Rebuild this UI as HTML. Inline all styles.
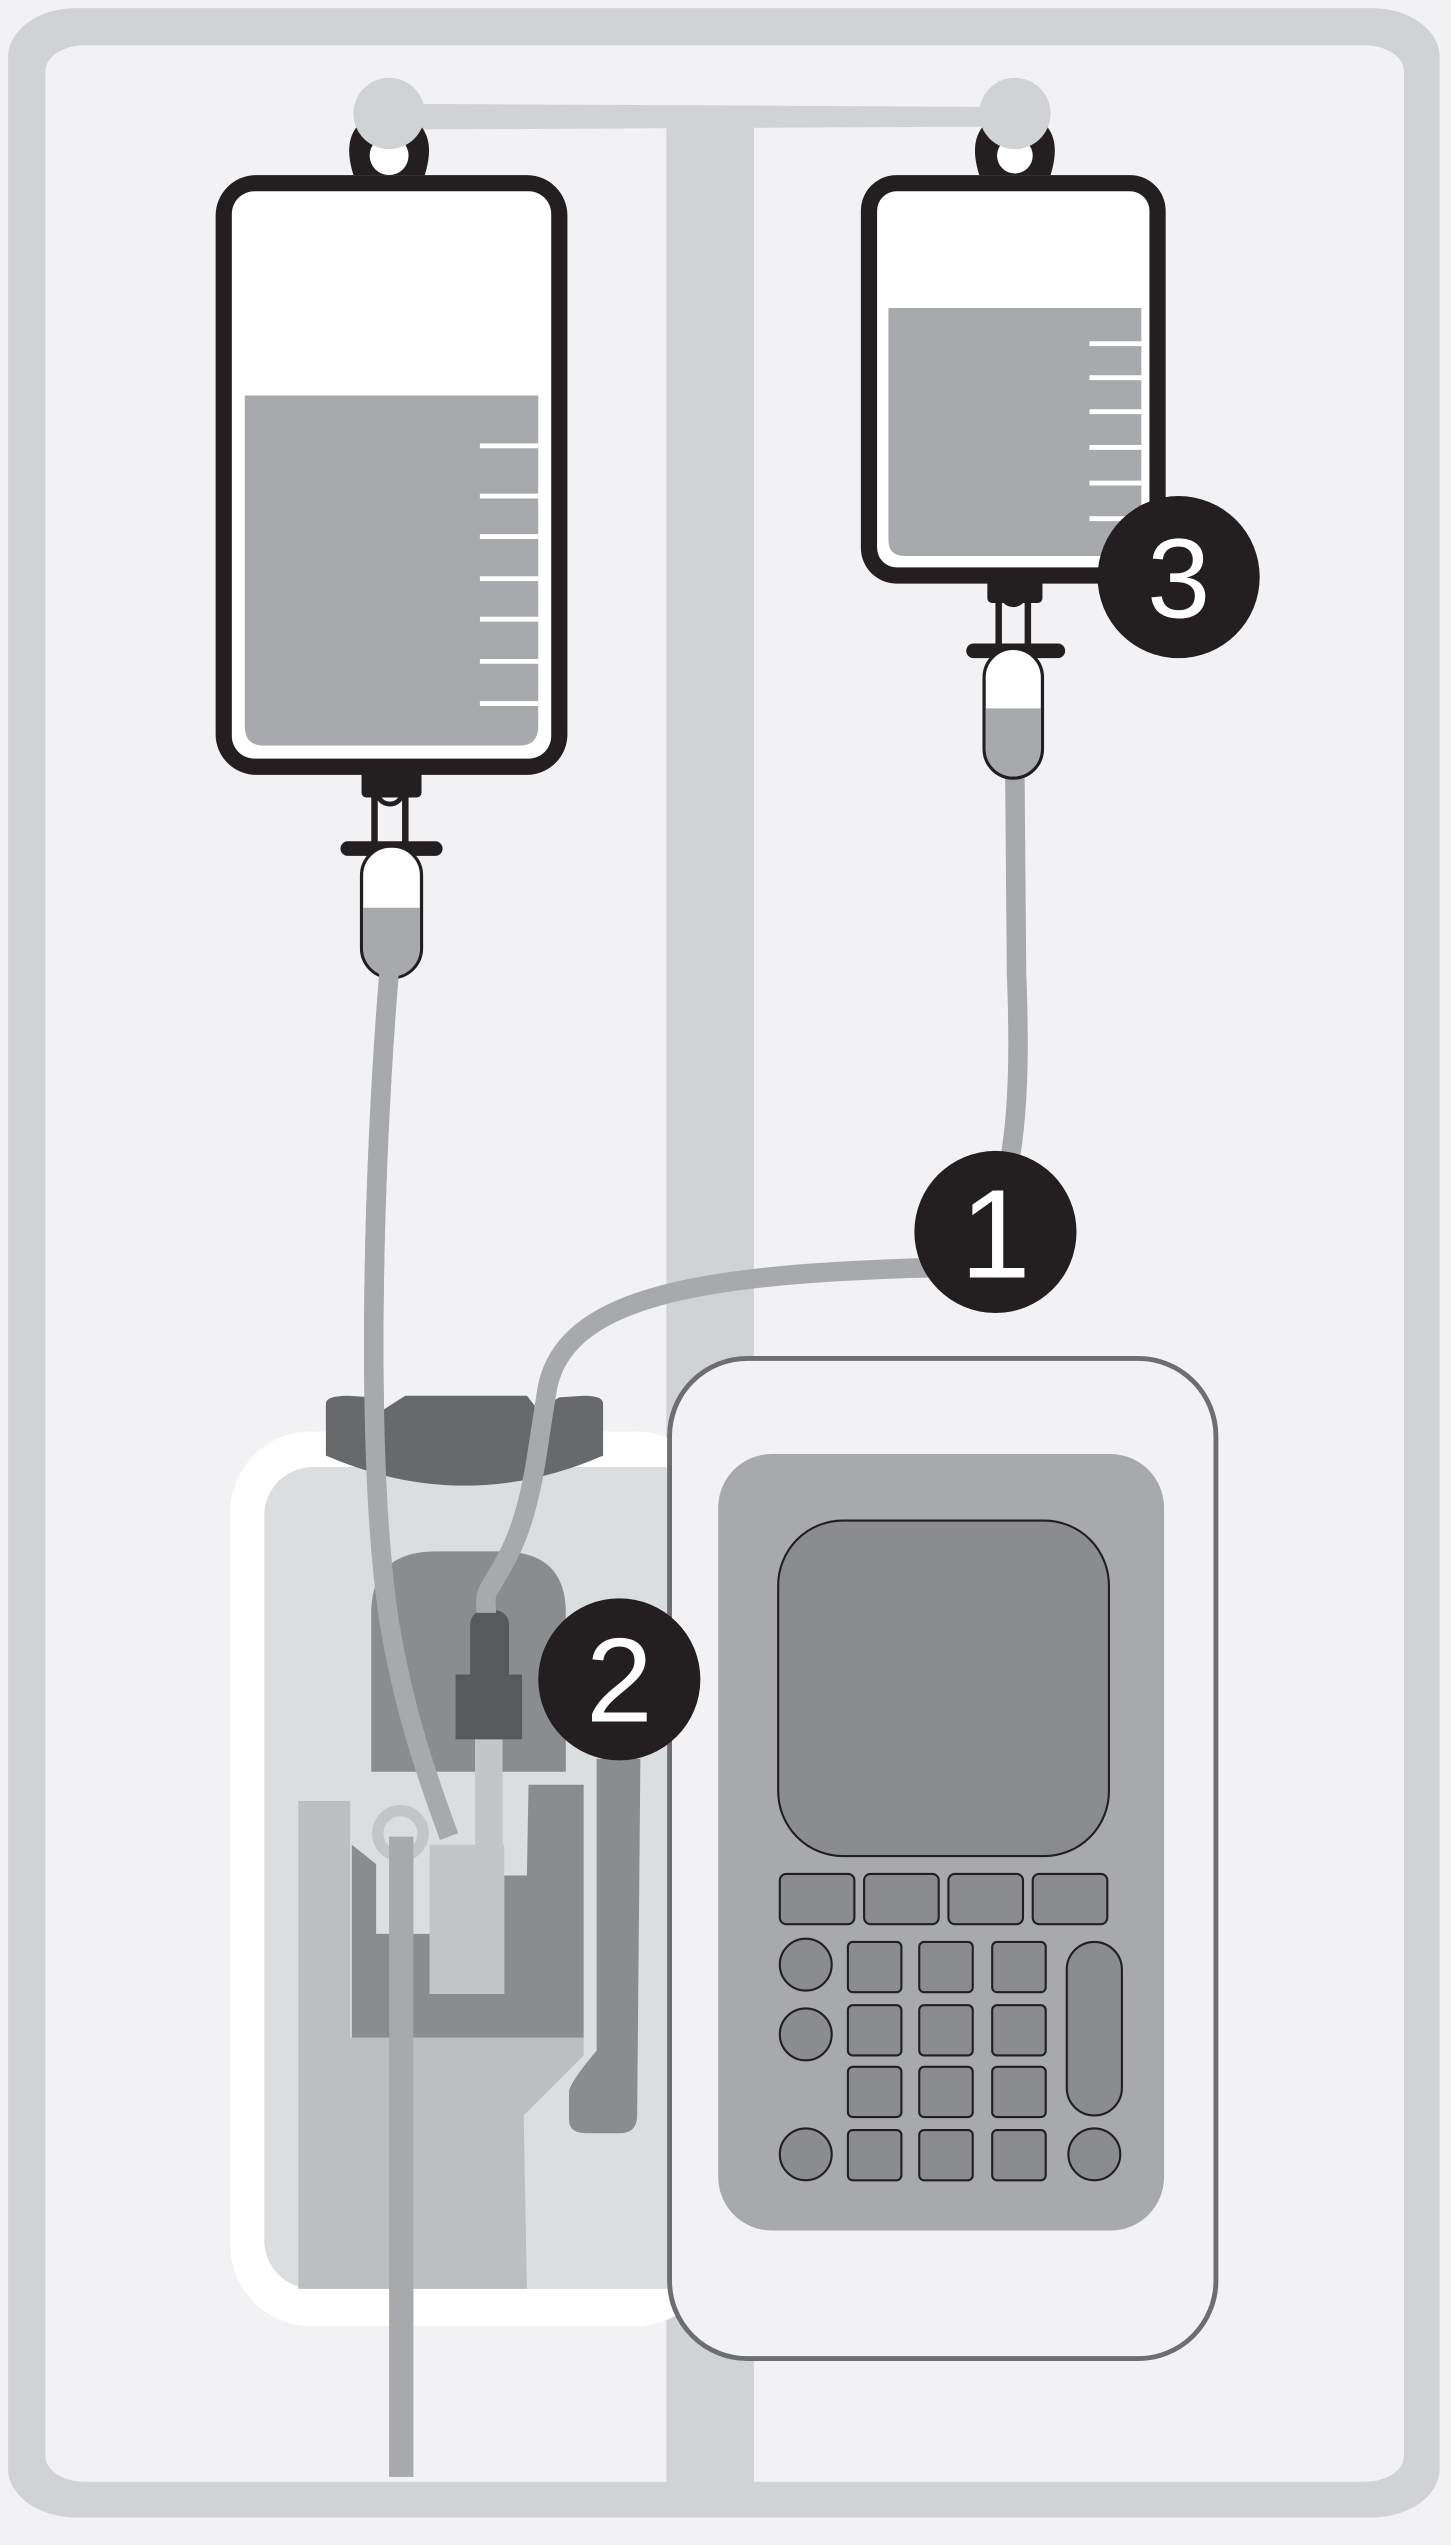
<!DOCTYPE html>
<html><head><meta charset="utf-8"><style>html,body{margin:0;padding:0;background:#f2f2f4}svg{display:block}</style></head>
<body>
<svg width="1451" height="2545" viewBox="0 0 895 1570" preserveAspectRatio="none" xmlns="http://www.w3.org/2000/svg">
<rect x="5" y="5" width="883" height="1548" rx="42" ry="30" fill="#d1d2d4"/>
<rect x="28" y="28" width="838" height="1503" rx="24" ry="16" fill="#f2f2f4"/>
<rect x="411" y="78" width="54" height="1453" fill="#d1d2d4"/>
<polygon points="240,64 626,66 626,78 240,80" fill="#d1d2d4"/>
<!-- hangers -->
<path d="M218,108 C214,95 214,84 222,76 L258,76 C266,84 266,95 262,108 Z" fill="#231f20"/>
<circle cx="240" cy="96" r="12" fill="#fff"/>
<path d="M604,108 C600,95 600,84 608,76 L644,76 C652,84 652,95 648,108 Z" fill="#231f20"/>
<circle cx="626" cy="96" r="11" fill="#fff"/>
<circle cx="240" cy="70" r="22" fill="#d1d2d4"/>
<circle cx="626" cy="70" r="22" fill="#d1d2d4"/>
<!-- left bag -->
<rect x="133" y="108" width="217" height="370" rx="25" fill="#231f20"/>
<rect x="143" y="118" width="197" height="350" rx="14" fill="#fff"/>
<path d="M151,244 L332,244 L332,448 Q332,460 320,460 L163,460 Q151,460 151,448 Z" fill="#a7a9ac"/>
<g stroke="#fff" stroke-width="3">
<line x1="296" y1="275" x2="332" y2="275"/><line x1="296" y1="306" x2="332" y2="306"/><line x1="296" y1="331" x2="332" y2="331"/><line x1="296" y1="357" x2="332" y2="357"/><line x1="296" y1="382" x2="332" y2="382"/><line x1="296" y1="408" x2="332" y2="408"/><line x1="296" y1="434" x2="332" y2="434"/></g>
<rect x="223" y="474" width="37" height="18" rx="3" fill="#231f20"/>
<rect x="229" y="482" width="4" height="40" fill="#231f20"/><rect x="248" y="482" width="4" height="40" fill="#231f20"/>
<circle cx="240.5" cy="488" r="8" fill="none" stroke="#231f20" stroke-width="3"/>
<rect x="210" y="519" width="63" height="9" rx="4.5" fill="#231f20"/>
<path d="M240,600 C230,720 225,900 240,1000 C250,1060 265,1100 277,1133" fill="none" stroke="#a7a9ac" stroke-width="12"/>
<rect x="223" y="522" width="37" height="81" rx="18" fill="#fff" stroke="#231f20" stroke-width="2"/>
<path d="M224,560 L259,560 L259,585 A17.5,17.5 0 0 1 224,585 Z" fill="#a7a9ac"/>
<!-- right bag -->
<rect x="531" y="108" width="188" height="252" rx="22" fill="#231f20"/>
<rect x="541" y="118" width="168" height="232" rx="12" fill="#fff"/>
<path d="M548,190 L704,190 L704,343 L558,343 Q548,343 548,333 Z" fill="#a7a9ac"/>
<g stroke="#fff" stroke-width="3">
<line x1="672" y1="212" x2="704" y2="212"/><line x1="672" y1="233" x2="704" y2="233"/><line x1="672" y1="254" x2="704" y2="254"/><line x1="672" y1="276" x2="704" y2="276"/><line x1="672" y1="298" x2="704" y2="298"/><line x1="672" y1="320" x2="704" y2="320"/></g>
<rect x="609" y="356" width="34" height="16" rx="3" fill="#231f20"/>
<rect x="614" y="362" width="4" height="38" fill="#231f20"/><rect x="632" y="362" width="4" height="38" fill="#231f20"/>
<circle cx="625" cy="366" r="7" fill="none" stroke="#231f20" stroke-width="3"/>
<rect x="596" y="397" width="61" height="9" rx="4.5" fill="#231f20"/>
<path d="M626,478 L627,600 C629,650 628,690 622,720" fill="none" stroke="#a7a9ac" stroke-width="12"/>
<rect x="607" y="400" width="36" height="80" rx="18" fill="#fff" stroke="#231f20" stroke-width="2"/>
<path d="M608,437 L642,437 L642,462 A17,17 0 0 1 608,462 Z" fill="#a7a9ac"/>
<circle cx="727" cy="356" r="50" fill="#231f20"/>
<text x="727" y="381" font-family="Liberation Sans, sans-serif" font-size="70" fill="#fff" text-anchor="middle">3</text>
<!-- left device -->
<rect x="142" y="883" width="300" height="552" rx="50" fill="#fff"/>
<rect x="163" y="905" width="280" height="507" rx="30" fill="#dcdddf"/>
<path d="M201,866 Q201,861 215,861 L230,862 L236,870 L250,861 L325,861 L332,870 L345,862 L360,861 Q372,861 372,866 L372,898 Q287,935 201,898 Z" fill="#68696b"/>
<path d="M229,1093 L229,995 Q229,957 269,957 L309,957 Q349,957 349,995 L349,1093 Z" fill="#8b8c90"/>
<polygon points="184,1111 216,1111 216,1257 360,1257 360,1268 323,1305 325,1412 184,1412" fill="#bcbec1"/>
<polygon points="217,1138 232,1150 232,1193 265,1193 265,1230 311,1230 311,1157 325,1157 326,1101 360,1101 360,1257 217,1257" fill="#8b8c90"/>
<rect x="293" y="1070" width="17" height="70" fill="#c4c5c7"/>
<rect x="265" y="1138" width="46" height="92" fill="#c4c5c7"/>
<circle cx="247" cy="1131" r="14" fill="none" stroke="#c4c5c7" stroke-width="7"/>
<rect x="240" y="1133" width="15" height="395" fill="#a7a9ac"/>
<path d="M368,1085 L395,1085 L393,1305 Q393,1316 382,1316 L362,1316 Q351,1316 351,1308 L351,1290 Q352,1284 368,1265 Z" fill="#8b8c90"/>
<rect x="281" y="1033" width="41" height="40" fill="#58595b"/>
<path d="M290,1033 L290,1003 Q290,993 302,993 Q314,993 314,1003 L314,1033 Z" fill="#58595b"/>
<path d="M575,782 C430,786 345,800 337,860 L330,905 C322,950 312,962 303,978 C298,985 300,990 300,995" fill="none" stroke="#a7a9ac" stroke-width="12"/>
<path d="M240,600 C230,720 225,900 240,1000 C250,1060 265,1100 277,1133" fill="none" stroke="#a7a9ac" stroke-width="12"/>
<circle cx="614" cy="760" r="50" fill="#231f20"/>
<text x="614" y="788" font-family="Liberation Sans, sans-serif" font-size="78" fill="#fff" text-anchor="middle">1</text>
<!-- pump -->
<rect x="413" y="838" width="337" height="617" rx="48" fill="#f2f2f4" stroke="#6d6e71" stroke-width="3"/>
<rect x="443" y="897" width="275" height="479" rx="33" fill="#a7a9ac"/>
<g fill="#8b8c90" stroke="#231f20" stroke-width="1.3">
<rect x="480" y="938" width="204" height="207" rx="40"/>
<rect x="481" y="1156" width="46" height="31" rx="4"/><rect x="533" y="1156" width="46" height="31" rx="4"/><rect x="585" y="1156" width="46" height="31" rx="4"/><rect x="637" y="1156" width="46" height="31" rx="4"/>
<rect x="523" y="1198" width="33" height="31" rx="3"/><rect x="567" y="1198" width="33" height="31" rx="3"/><rect x="612" y="1198" width="33" height="31" rx="3"/>
<rect x="523" y="1237" width="33" height="31" rx="3"/><rect x="567" y="1237" width="33" height="31" rx="3"/><rect x="612" y="1237" width="33" height="31" rx="3"/>
<rect x="523" y="1275" width="33" height="31" rx="3"/><rect x="567" y="1275" width="33" height="31" rx="3"/><rect x="612" y="1275" width="33" height="31" rx="3"/>
<rect x="523" y="1314" width="33" height="31" rx="3"/><rect x="567" y="1314" width="33" height="31" rx="3"/><rect x="612" y="1314" width="33" height="31" rx="3"/>
<circle cx="497" cy="1212" r="16"/><circle cx="497" cy="1255" r="16"/><circle cx="497" cy="1329" r="16"/>
<rect x="658" y="1198" width="34" height="107" rx="17"/>
<circle cx="675" cy="1329" r="16"/>
</g>
<circle cx="382" cy="1036" r="50" fill="#231f20"/>
<text x="382" y="1062" font-family="Liberation Sans, sans-serif" font-size="74" fill="#fff" text-anchor="middle">2</text>
</svg>
</body></html>
